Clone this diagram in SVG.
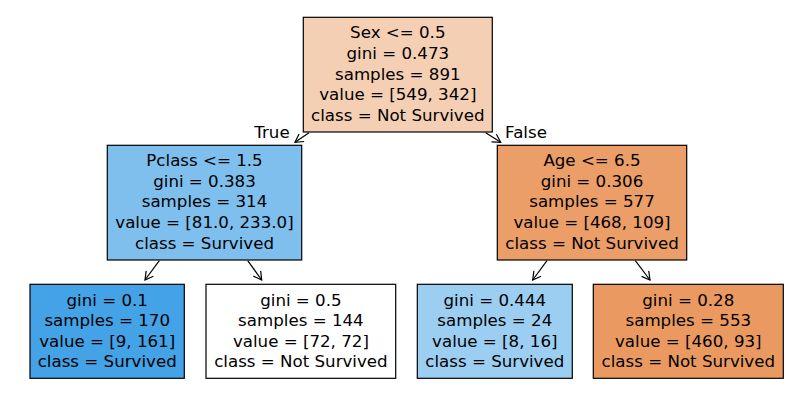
<svg xmlns="http://www.w3.org/2000/svg" width="794" height="405" viewBox="0 0 794 405">
<style>
.box{stroke:#000;stroke-width:1.2}
text{font-family:"DejaVu Sans",sans-serif;font-size:16.67px;fill:#000;text-anchor:middle}
.edge{stroke:#000;stroke-width:1.2;fill:none}
</style>
<defs>
<marker id="ah" viewBox="-10 -6 12 12" markerWidth="12" markerHeight="12" refX="0" refY="0" orient="auto" markerUnits="userSpaceOnUse">
<path d="M-8,-4.5 L0,0 L-8,4.5" fill="none" stroke="#000" stroke-width="1.2"/>
</marker>
</defs>
<rect width="794" height="405" fill="#fff"/>
<g id="connectors">
<line class="edge" x1="309" y1="132.7" x2="295" y2="142.3" marker-end="url(#ah)"/>
<line class="edge" x1="485.7" y1="132.7" x2="500.7" y2="142.3" marker-end="url(#ah)"/>
<line class="edge" x1="159.3" y1="260.7" x2="145" y2="280" marker-end="url(#ah)"/>
<line class="edge" x1="247.7" y1="260.7" x2="261.7" y2="280" marker-end="url(#ah)"/>
<line class="edge" x1="547" y1="260.7" x2="532.7" y2="280" marker-end="url(#ah)"/>
<line class="edge" x1="635.3" y1="260.7" x2="650" y2="280" marker-end="url(#ah)"/>
<text x="272" y="138.3">True</text>
<text x="526" y="138.3">False</text>
</g>
<g id="root">
<rect class="box" x="303.3" y="17.3" width="189" height="114.7" fill="#f5cfb4"/>
<text x="397.8" y="38.3">Sex &lt;= 0.5</text>
<text x="397.8" y="58.9">gini = 0.473</text>
<text x="397.8" y="79.5">samples = 891</text>
<text x="397.8" y="100.1">value = [549, 342]</text>
<text x="397.8" y="120.7">class = Not Survived</text>
</g>
<g id="pclass">
<rect class="box" x="107.3" y="145.3" width="194.4" height="114.7" fill="#7ebfee"/>
<text x="204.5" y="166.2">Pclass &lt;= 1.5</text>
<text x="204.5" y="186.8">gini = 0.383</text>
<text x="204.5" y="207.4">samples = 314</text>
<text x="204.5" y="228">value = [81.0, 233.0]</text>
<text x="204.5" y="248.6">class = Survived</text>
</g>
<g id="age">
<rect class="box" x="497.3" y="145.3" width="189.4" height="114.7" fill="#eb9e67"/>
<text x="592" y="166.2">Age &lt;= 6.5</text>
<text x="592" y="186.8">gini = 0.306</text>
<text x="592" y="207.4">samples = 577</text>
<text x="592" y="228">value = [468, 109]</text>
<text x="592" y="248.6">class = Not Survived</text>
</g>
<g id="leaf1">
<rect class="box" x="30" y="284.3" width="154.3" height="94" fill="#44a2e6"/>
<text x="107.2" y="305.6">gini = 0.1</text>
<text x="107.2" y="326.1">samples = 170</text>
<text x="107.2" y="346.6">value = [9, 161]</text>
<text x="107.2" y="367.1">class = Survived</text>
</g>
<g id="leaf2">
<rect class="box" x="206" y="284.3" width="189.7" height="94" fill="#ffffff"/>
<text x="300.9" y="305.6">gini = 0.5</text>
<text x="300.9" y="326.1">samples = 144</text>
<text x="300.9" y="346.6">value = [72, 72]</text>
<text x="300.9" y="367.1">class = Not Survived</text>
</g>
<g id="leaf3">
<rect class="box" x="417.3" y="284.3" width="155" height="94" fill="#9ccef2"/>
<text x="494.8" y="305.6">gini = 0.444</text>
<text x="494.8" y="326.1">samples = 24</text>
<text x="494.8" y="346.6">value = [8, 16]</text>
<text x="494.8" y="367.1">class = Survived</text>
</g>
<g id="leaf4">
<rect class="box" x="593.3" y="284.3" width="190" height="94" fill="#ea9a61"/>
<text x="688.3" y="305.6">gini = 0.28</text>
<text x="688.3" y="326.1">samples = 553</text>
<text x="688.3" y="346.6">value = [460, 93]</text>
<text x="688.3" y="367.1">class = Not Survived</text>
</g>
</svg>
